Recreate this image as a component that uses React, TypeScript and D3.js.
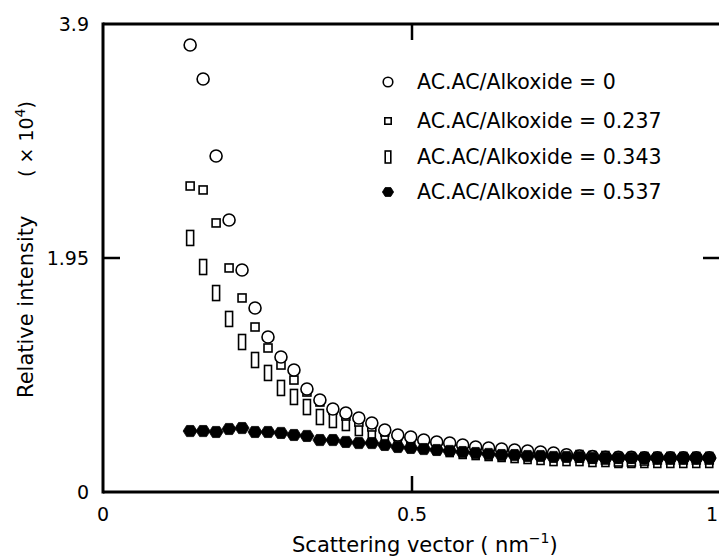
import React from 'react';
import * as d3 from 'd3';

const xValues = [
  0.141, 0.162, 0.183, 0.204, 0.225, 0.246, 0.267, 0.288, 0.309, 0.330,
  0.351, 0.372, 0.393, 0.414, 0.435, 0.456, 0.477, 0.498, 0.519, 0.540,
  0.561, 0.582, 0.603, 0.624, 0.645, 0.666, 0.687, 0.708, 0.729, 0.750,
  0.771, 0.792, 0.813, 0.834, 0.855, 0.876, 0.897, 0.918, 0.939, 0.960, 0.981,
];

const ratio0 = [
  3.725, 3.442, 2.80, 2.267, 1.85, 1.533, 1.292, 1.125, 1.017, 0.858,
  0.767, 0.692, 0.658, 0.617, 0.575, 0.517, 0.475, 0.458, 0.433, 0.417,
  0.408, 0.392, 0.375, 0.367, 0.358, 0.35, 0.342, 0.333, 0.325, 0.31,
  0.30, 0.295, 0.29, 0.29, 0.29, 0.285, 0.285, 0.285, 0.285, 0.285, 0.285,
];

const ratio237 = [
  2.55, 2.517, 2.242, 1.867, 1.617, 1.375, 1.2, 1.058, 0.933, 0.833,
  0.75, 0.683, 0.633, 0.583, 0.542, 0.5, 0.467, 0.442, 0.417, 0.4,
  0.383, 0.367, 0.358, 0.342, 0.333, 0.325, 0.317, 0.308, 0.3, 0.292,
  0.283, 0.275, 0.267, 0.25, 0.25, 0.258, 0.267, 0.267, 0.267, 0.267, 0.267,
];

const ratio343 = [
  2.117, 1.875, 1.658, 1.442, 1.25, 1.1, 0.992, 0.867, 0.792, 0.708,
  0.625, 0.6, 0.575, 0.533, 0.5, 0.467, 0.433, 0.408, 0.392, 0.375,
  0.358, 0.342, 0.333, 0.325, 0.317, 0.308, 0.3, 0.292, 0.283, 0.283,
  0.283, 0.275, 0.275, 0.267, 0.267, 0.267, 0.267, 0.267, 0.267, 0.267, 0.267,
];

const ratio537 = [
  0.508, 0.508, 0.5, 0.525, 0.533, 0.5, 0.5, 0.492, 0.475, 0.467,
  0.433, 0.433, 0.417, 0.408, 0.408, 0.392, 0.375, 0.367, 0.358, 0.35,
  0.342, 0.333, 0.325, 0.317, 0.308, 0.308, 0.3, 0.3, 0.292, 0.292,
  0.292, 0.283, 0.283, 0.283, 0.283, 0.283, 0.283, 0.283, 0.283, 0.283, 0.283,
];

const legendLabels = [
  'AC.AC/Alkoxide = 0',
  'AC.AC/Alkoxide = 0.237',
  'AC.AC/Alkoxide = 0.343',
  'AC.AC/Alkoxide = 0.537',
];

const xTicks = [0, 0.5, 1];
const xTickLabels = ['0', '0.5', '1'];
const yTicks = [0, 1.95, 3.9];
const yTickLabels = ['0', '1.95', '3.9'];

const FONT = 'DejaVu Sans, sans-serif';

const x = d3.scaleLinear().domain([0, 1]).range([103, 721]);
const y = d3.scaleLinear().domain([0, 3.9]).range([492, 24]);

type Kind = 'circle' | 'square' | 'tall' | 'filled';

function hexPath(cx: number, cy: number, r: number): string {
  const pts: [number, number][] = d3.range(6).map((k) => {
    const a = (Math.PI / 3) * k;
    return [cx + r * Math.cos(a), cy + r * 0.92 * Math.sin(a)];
  });
  return (d3.line()(pts) || '') + 'Z';
}

function Marker({ kind, cx, cy, s }: { kind: Kind; cx: number; cy: number; s: number }) {
  const sw = 1.6;
  if (kind === 'circle') {
    return <circle cx={cx} cy={cy} r={6 * s} fill="#fff" stroke="#000" strokeWidth={sw} />;
  }
  if (kind === 'square') {
    const w = 8 * s;
    return <rect x={cx - w / 2} y={cy - w / 2} width={w} height={w} fill="#fff" stroke="#000" strokeWidth={sw} />;
  }
  if (kind === 'tall') {
    const w = 7 * s;
    const h = 15 * s;
    return <rect x={cx - w / 2} y={cy - h / 2} width={w} height={h} fill="#fff" stroke="#000" strokeWidth={sw} />;
  }
  return <path d={hexPath(cx, cy, 7 * s)} fill="#000" stroke="#000" strokeWidth={0.8} />;
}

const seriesDefs: { kind: Kind; values: number[] }[] = [
  { kind: 'tall', values: ratio343 },
  { kind: 'square', values: ratio237 },
  { kind: 'circle', values: ratio0 },
  { kind: 'filled', values: ratio537 },
];

const legendKinds: Kind[] = ['circle', 'square', 'tall', 'filled'];
const legendRows = [82, 121, 157, 192];

export default function App() {
  const x0 = x(0);
  const x1 = x(1);
  const yTop = y(3.9);
  const yBot = y(0);
  return (
    <svg
      width={719}
      height={557}
      style={{ position: 'absolute', left: 0, top: 0, background: '#fff' }}
      fontFamily={FONT}
    >
      <rect width={719} height={557} fill="#fff" />
      {seriesDefs.map((s) => (
        <g key={s.kind}>
          {s.values.map((v, i) => (
            <Marker key={i} kind={s.kind} cx={x(xValues[i])} cy={y(v)} s={1} />
          ))}
        </g>
      ))}
      {/* frame */}
      <g stroke="#000" strokeWidth={3} fill="none">
        <line x1={x0} y1={yTop} x2={x1} y2={yTop} />
        <line x1={x0} y1={yTop - 1.5} x2={x0} y2={yBot + 1.5} />
        <line x1={x0} y1={yBot} x2={x1} y2={yBot} />
        <line x1={x1} y1={yTop} x2={x1} y2={yBot} />
      </g>
      {/* ticks */}
      <g stroke="#000" strokeWidth={2.5}>
        {xTicks.slice(1, -1).map((t) => (
          <g key={t}>
            <line x1={x(t)} y1={yBot} x2={x(t)} y2={yBot - 16} />
            <line x1={x(t)} y1={yTop} x2={x(t)} y2={yTop + 16} />
          </g>
        ))}
        {yTicks.slice(1, -1).map((t) => (
          <g key={t}>
            <line x1={x0} y1={y(t)} x2={x0 + 17} y2={y(t)} />
            <line x1={x1} y1={y(t)} x2={x1 - 18} y2={y(t)} />
          </g>
        ))}
      </g>
      {/* tick labels */}
      <g fontSize={19} fill="#000">
        {xTicks.map((t, i) => (
          <text key={t} x={Math.min(x(t), 712)} y={514} textAnchor="middle" dominantBaseline="central">
            {xTickLabels[i]}
          </text>
        ))}
        {yTicks.map((t, i) => (
          <text key={t} x={89} y={y(t)} textAnchor="end" dominantBaseline="central">
            {yTickLabels[i]}
          </text>
        ))}
      </g>
      {/* axis titles */}
      <text x={292} y={552} fontSize={21} fill="#000">
        Scattering vector ( nm
        <tspan dy={-9} fontSize={14}>−1</tspan>
        <tspan dy={9}>)</tspan>
      </text>
      <g transform="translate(33,398) rotate(-90)" fill="#000">
        <text x={0} y={0} fontSize={21}>Relative intensity</text>
        <text x={221} y={0} fontSize={19}>
          ( × 10
          <tspan dy={-8} fontSize={14}>4</tspan>
          <tspan dy={8}>)</tspan>
        </text>
      </g>
      {/* legend */}
      {legendLabels.map((lab, i) => (
        <g key={lab}>
          <Marker kind={legendKinds[i]} cx={388} cy={legendRows[i]} s={0.8} />
          <text x={417} y={legendRows[i]} fontSize={20.5} dominantBaseline="central" fill="#000">
            {lab}
          </text>
        </g>
      ))}
    </svg>
  );
}
